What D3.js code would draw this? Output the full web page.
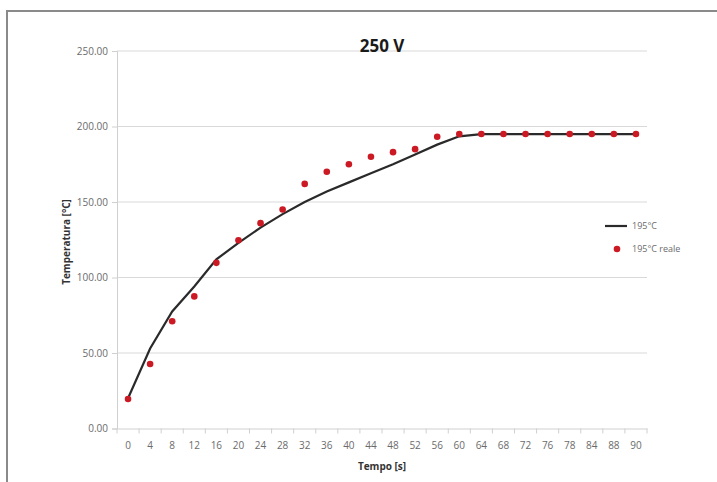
<!DOCTYPE html>
<html><head><meta charset="utf-8">
<script src="https://cdn.jsdelivr.net/npm/d3@7"></script>
<style>body{margin:0;background:#fff}svg{display:block}</style>
</head><body>
<svg id="c" width="717" height="482"></svg>
<script>
const categories = ["0","4","8","12","16","20","24","28","32","36","40","44","48","52","56","60","64","68","72","76","78","84","88","90"];
const lineValues = [20,53,77.5,94,112,123,133,142,150,157,163,169,175,181.5,188,193.5,195,195,195,195,195,195,195,195];
const dotValues = [19.5,42.7,71,87.5,109.7,124.7,136,145,162,170,175,180,183,185,193.2,195,195,195,195,195,195,195,195,195];
const yTicks = [0,50,100,150,200,250];
const seriesNames = ["195°C","195°C reale"];

const svg = d3.select("#c");
const font = "'Liberation Sans Narrow', 'Open Sans', 'Liberation Sans', sans-serif";
const tfont = "'Open Sans', 'Liberation Sans', sans-serif";
svg.append("rect").attr("x",7).attr("y",11).attr("width",740).attr("height",500)
  .attr("fill","#fff").attr("stroke","#8a8a8a").attr("stroke-width",2);

const L=117,R=647,T=51,B=428.5;
const x = d3.scaleBand().domain(categories).range([L,R]);
const y = d3.scaleLinear().domain([0,250]).range([B,T]);

svg.append("g").selectAll("line").data(yTicks.filter(d=>d>0)).join("line")
  .attr("x1",L).attr("x2",R).attr("y1",d=>y(d)).attr("y2",d=>y(d))
  .attr("stroke","#d9d9d9").attr("stroke-width",1);

const ya = svg.append("g").attr("transform",`translate(${L},0)`)
  .call(d3.axisLeft(y).tickValues(yTicks).tickFormat(d3.format(".2f")).tickSize(5).tickPadding(4));
ya.select(".domain").attr("stroke","#d0d0d0");
ya.selectAll(".tick line").attr("stroke","#d0d0d0");
ya.selectAll("text").attr("font-family",font).attr("font-size",10).attr("fill","#6b6b6b");

const xa = svg.append("g").attr("transform",`translate(0,${B})`)
  .call(d3.axisBottom(x).tickSize(0).tickPadding(13));
xa.select(".domain").attr("stroke","#d0d0d0");
xa.selectAll("text").attr("font-family",font).attr("font-size",10).attr("fill","#6b6b6b");
svg.append("g").selectAll("line").data(categories.concat(["end"])).join("line")
  .attr("x1",(d,i)=>L+i*x.step()).attr("x2",(d,i)=>L+i*x.step())
  .attr("y1",B).attr("y2",B+5).attr("stroke","#d0d0d0");

const cx = d=>x(d)+x.bandwidth()/2;
svg.append("path").datum(categories.map((c,i)=>[cx(c),y(lineValues[i])]))
  .attr("d",d3.line()).attr("fill","none").attr("stroke","#2a2a2a").attr("stroke-width",2.2);

svg.append("g").selectAll("circle").data(categories).join("circle")
  .attr("cx",d=>cx(d)).attr("cy",(d,i)=>y(dotValues[i])).attr("r",3.3).attr("fill","#cc1a24");

svg.append("text").attr("x",382).attr("y",52).attr("text-anchor","middle")
  .attr("font-family",tfont).attr("font-weight","bold").attr("font-size",17).attr("fill","#1a1a1a").text("250 V");

svg.append("text").attr("transform","translate(70,242) rotate(-90)").attr("text-anchor","middle")
  .attr("font-family",font).attr("font-weight","bold").attr("font-size",10).attr("fill","#333").text("Temperatura [°C]");
svg.append("text").attr("x",382).attr("y",470).attr("text-anchor","middle")
  .attr("font-family",font).attr("font-weight","bold").attr("font-size",10).attr("fill","#333").text("Tempo [s]");

svg.append("line").attr("x1",605).attr("x2",627).attr("y1",226).attr("y2",226).attr("stroke","#2a2a2a").attr("stroke-width",2.2);
svg.append("circle").attr("cx",617).attr("cy",249).attr("r",3.3).attr("fill","#cc1a24");
svg.append("text").attr("x",632).attr("y",229).attr("font-family",font).attr("font-size",9).attr("fill","#6b6b6b").text(seriesNames[0]);
svg.append("text").attr("x",632).attr("y",252).attr("font-family",font).attr("font-size",9).attr("fill","#6b6b6b").text(seriesNames[1]);
</script>
</body></html>
